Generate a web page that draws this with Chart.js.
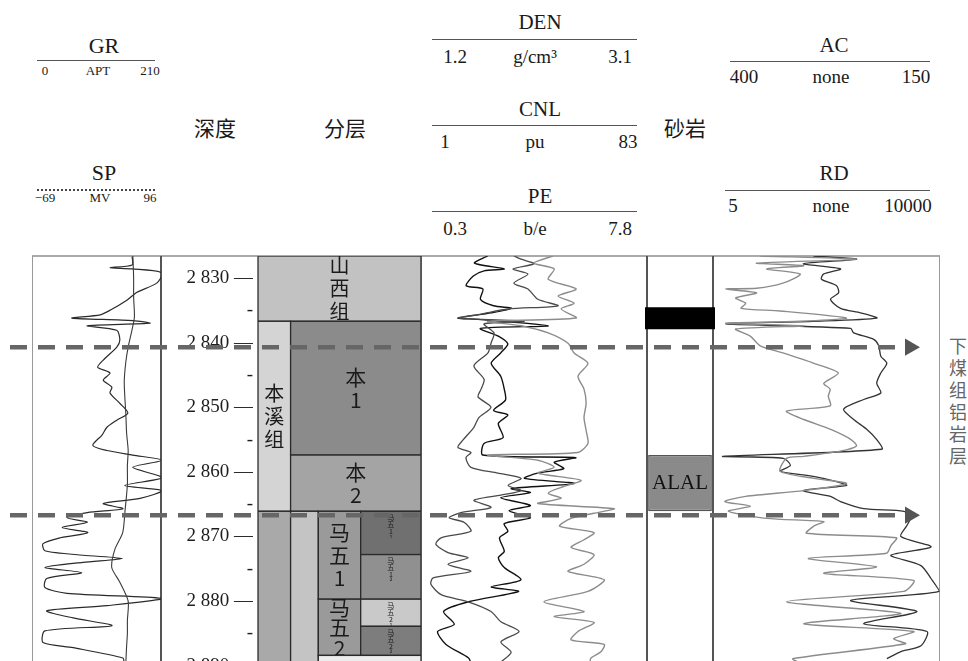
<!DOCTYPE html>
<html>
<head>
<meta charset="utf-8">
<title>测井曲线</title>
<script src="https://cdn.jsdelivr.net/npm/chart.js@4.4.1/dist/chart.umd.min.js"></script>
<style>
  body { margin: 0; background: #fff; overflow: hidden; }
  #page { position: relative; width: 968px; height: 661px; overflow: hidden;
          font-family: 'Liberation Serif', 'Noto Sans CJK SC', serif; color: #1a1a1a; }
  #page canvas { position: absolute; }
  .txt { position: absolute; white-space: nowrap; transform: translate(-50%, -50%); line-height: 1; }
  .cjk { font-family: 'Noto Sans CJK SC', sans-serif; }
  .rule { position: absolute; height: 0; border-top: 1.5px solid #555; }
  .vline { position: absolute; top: 256px; height: 420px; width: 0; }
</style>
</head>
<body>
<div id="page">
  <!-- headers -->
  <div class="txt" style="left:104px;top:46px;font-size:22px">GR</div>
  <div class="rule" style="left:37px;top:60px;width:118px"></div>
  <div class="txt" style="left:45px;top:70px;font-size:13px">0</div>
  <div class="txt" style="left:98px;top:70px;font-size:13px">APT</div>
  <div class="txt" style="left:150px;top:70px;font-size:13px">210</div>

  <div class="txt" style="left:104px;top:173px;font-size:22px">SP</div>
  <div class="rule" style="left:37px;top:189px;width:118px;border-top:2px dotted #444"></div>
  <div class="txt" style="left:45px;top:197px;font-size:13px">−69</div>
  <div class="txt" style="left:100px;top:197px;font-size:13px">MV</div>
  <div class="txt" style="left:150px;top:197px;font-size:13px">96</div>

  <div class="txt cjk" style="left:215px;top:127px;font-size:21px">深度</div>
  <div class="txt cjk" style="left:345px;top:127px;font-size:21px">分层</div>

  <div class="txt" style="left:540px;top:22px;font-size:21px">DEN</div>
  <div class="rule" style="left:432px;top:39px;width:205px"></div>
  <div class="txt" style="left:455px;top:56px;font-size:19px">1.2</div>
  <div class="txt" style="left:535px;top:56px;font-size:19px">g/cm³</div>
  <div class="txt" style="left:620px;top:56px;font-size:19px">3.1</div>

  <div class="txt" style="left:540px;top:109px;font-size:21px">CNL</div>
  <div class="rule" style="left:432px;top:125px;width:205px"></div>
  <div class="txt" style="left:445px;top:141px;font-size:19px">1</div>
  <div class="txt" style="left:535px;top:141px;font-size:19px">pu</div>
  <div class="txt" style="left:628px;top:141px;font-size:19px">83</div>

  <div class="txt" style="left:540px;top:196px;font-size:21px">PE</div>
  <div class="rule" style="left:432px;top:211px;width:205px"></div>
  <div class="txt" style="left:455px;top:228px;font-size:19px">0.3</div>
  <div class="txt" style="left:535px;top:228px;font-size:19px">b/e</div>
  <div class="txt" style="left:620px;top:228px;font-size:19px">7.8</div>

  <div class="txt cjk" style="left:685px;top:127px;font-size:21px">砂岩</div>

  <div class="txt" style="left:834px;top:45px;font-size:21px">AC</div>
  <div class="rule" style="left:730px;top:61px;width:200px"></div>
  <div class="txt" style="left:744px;top:76px;font-size:19px">400</div>
  <div class="txt" style="left:831px;top:76px;font-size:19px">none</div>
  <div class="txt" style="left:916px;top:76px;font-size:19px">150</div>

  <div class="txt" style="left:834px;top:173px;font-size:21px">RD</div>
  <div class="rule" style="left:725px;top:190px;width:205px"></div>
  <div class="txt" style="left:733px;top:205px;font-size:19px">5</div>
  <div class="txt" style="left:831px;top:205px;font-size:19px">none</div>
  <div class="txt" style="left:908px;top:205px;font-size:19px">10000</div>

  <div class="cjk" style="position:absolute;left:945px;top:337px;font-size:18px;color:#666;writing-mode:vertical-rl;letter-spacing:4px">下煤组铝岩层</div>

  <!-- track frame -->
  <div class="rule" style="left:32px;top:255px;width:908px;border-top:2px solid #aaa"></div>
  <div class="vline" style="left:32px;border-left:1px solid #999"></div>
  <div class="vline" style="left:160px;border-left:2px solid #555"></div>
  <div class="vline" style="left:257px;border-left:1.5px solid #777"></div>
  <div class="vline" style="left:420px;border-left:2px solid #555"></div>
  <div class="vline" style="left:646px;border-left:2px solid #555"></div>
  <div class="vline" style="left:712px;border-left:2px solid #555"></div>
  <div class="vline" style="left:939px;border-left:1px solid #999"></div>

  <canvas id="trackGR" width="129" height="444" style="left:32px;top:256px"></canvas>
  <canvas id="trackDepth" width="97" height="444" style="left:161px;top:256px"></canvas>
  <canvas id="trackStrat" width="163" height="444" style="left:258px;top:256px"></canvas>
  <canvas id="trackDen" width="226" height="444" style="left:421px;top:256px"></canvas>
  <canvas id="trackSand" width="70" height="444" style="left:645px;top:256px"></canvas>
  <canvas id="trackAC" width="227" height="444" style="left:713px;top:256px"></canvas>
  <canvas id="overlay" width="920" height="444" style="left:10px;top:256px;pointer-events:none"></canvas>
</div>

<script>
// depth window shown (m)
const DEPTH_MIN = 2826.6;
const DEPTH_MAX = 2895.3;

// GR / SP track
const grDepth = [
  2826.7, 2828.0, 2828.4, 2828.6, 2829.2,
  2830.8, 2832.2, 2833.4, 2835.0, 2835.7,
  2836.2, 2836.6, 2837.0, 2837.4, 2838.1,
  2839.6, 2840.7, 2842.7, 2843.8, 2844.7,
  2845.8, 2846.9, 2847.8, 2849.4, 2850.9,
  2852.0, 2853.1, 2854.3, 2855.9, 2856.7,
  2857.4, 2858.2, 2859.3, 2860.9, 2862.1,
  2862.9, 2864.1, 2864.9, 2865.7, 2866.3,
  2867.1, 2867.8, 2868.6, 2869.4, 2870.2,
  2871.1, 2872.2, 2872.9, 2873.4, 2874.0,
  2874.8, 2875.6, 2876.5, 2877.9, 2878.8,
  2879.6, 2880.7, 2881.5, 2882.6, 2883.8,
  2884.6, 2886.4, 2887.2, 2888.8, 2889.6];
const grValues = [
  163, 163, 127, 163, 212,
  203, 171, 155, 127, 111,
  65, 164, 192, 90, 138,
  143, 138, 116, 107, 127,
  116, 130, 127, 143, 156,
  138, 122, 114, 99, 122,
  164, 212, 164, 212, 151,
  212, 176, 116, 148, 90,
  57, 90, 49, 91, 46,
  18, 21, 83, 147, 83,
  21, 81, 24, 21, 57,
  212, 122, 24, 67, 130,
  21, 18, 67, 148, 150];

const spDepth = [2826.6, 2830, 2833, 2836, 2838, 2840.7, 2843, 2846, 2849, 2851, 2854, 2856.7,
                 2859, 2862, 2866, 2869.4, 2872, 2874.8, 2877, 2880, 2883, 2885, 2887, 2889.6];
const spValues = [60, 61, 61, 62, 59, 54, 51, 49, 50, 51, 52, 54,
                  53, 53, 50, 47, 37, 33, 43, 54, 53, 53, 52, 51];

// DEN / CNL / PE track
const denDepth = [
  2826.6, 2827.7, 2828.6, 2828.9, 2829.7,
  2831.2, 2831.7, 2833.3, 2834.3, 2834.7,
  2835.4, 2836.2, 2836.4, 2837.4, 2837.8,
  2839.0, 2840.2, 2841.6, 2843.2, 2845.2,
  2847.2, 2848.9, 2850.5, 2851.2, 2852.5,
  2854.7, 2855.6, 2857.4, 2857.8, 2858.5,
  2859.5, 2860.2, 2861.0, 2861.8, 2862.6,
  2863.2, 2864.0, 2865.2, 2866.0, 2867.1,
  2868.0, 2869.2, 2870.2, 2872.3, 2873.3,
  2874.8, 2876.7, 2877.8, 2878.5, 2880.1,
  2881.6, 2883.6, 2884.7, 2886.7, 2888.8,
  2889.6];
const denValues = [
  1.76, 1.65, 1.90, 1.73, 1.64,
  1.58, 1.72, 1.70, 1.81, 1.96,
  1.79, 1.51, 1.68, 2.27, 1.70,
  1.85, 1.93, 1.87, 1.79, 1.87,
  1.90, 1.91, 1.81, 1.93, 1.85,
  1.89, 1.73, 1.72, 2.50, 2.32,
  2.40, 2.18, 2.07, 2.49, 1.96,
  2.12, 1.87, 2.12, 1.94, 2.12,
  1.90, 1.93, 1.86, 1.90, 1.85,
  1.90, 2.04, 1.79, 2.02, 1.60,
  1.39, 1.48, 1.34, 1.41, 1.60,
  1.62];

const cnlDepth = [
  2826.6, 2827.1, 2827.8, 2828.6, 2829.4,
  2830.8, 2831.7, 2833.3, 2834.3, 2834.8,
  2835.6, 2836.2, 2836.7, 2837.1, 2838.5,
  2840.1, 2841.6, 2843.6, 2845.7, 2847.2,
  2848.4, 2850.0, 2851.6, 2853.1, 2855.1,
  2856.2, 2857.0, 2857.8, 2859.3, 2860.2,
  2861.0, 2862.1, 2862.9, 2863.6, 2864.4,
  2865.5, 2866.3, 2867.1, 2867.8, 2869.2,
  2870.2, 2871.2, 2872.5, 2873.3, 2874.3,
  2875.4, 2876.4, 2877.4, 2879.0, 2880.1,
  2881.6, 2883.2, 2884.7, 2886.3, 2887.9,
  2889.4];
const cnlValues = [
  34.7, 37.3, 42.0, 34.4, 39.8,
  34.7, 39.8, 43.4, 50.7, 32.6,
  22.8, 14.8, 38.4, 23.9, 27.5,
  26.4, 25.3, 20.2, 23.9, 22.8,
  21.7, 26.4, 22.0, 20.2, 16.2,
  14.4, 19.1, 17.3, 19.1, 28.9,
  37.3, 32.6, 37.3, 30.0, 20.2,
  26.4, 15.5, 11.2, 16.6, 19.1,
  8.3, 6.4, 10.8, 18.1, 10.8,
  19.1, 5.4, 4.6, 8.3, 18.1,
  26.4, 30.0, 36.6, 30.0, 33.7,
  30.0];

const peDepth = [
  2826.6, 2827.7, 2828.6, 2830.2, 2831.7,
  2832.8, 2833.9, 2834.8, 2836.2, 2836.7,
  2837.4, 2838.5, 2840.1, 2841.6, 2843.2,
  2845.2, 2847.2, 2849.4, 2851.6, 2853.6,
  2855.6, 2857.0, 2857.4, 2858.2, 2859.3,
  2860.2, 2861.3, 2862.4, 2863.3, 2864.1,
  2864.9, 2865.7, 2866.4, 2867.2, 2868.4,
  2869.4, 2870.5, 2871.7, 2872.8, 2874.3,
  2875.4, 2876.7, 2878.5, 2880.1, 2881.6,
  2882.4, 2883.3, 2884.7, 2886.0, 2886.7,
  2887.8, 2888.8, 2889.6];
const peValues = [
  4.68, 4.05, 4.72, 4.52, 5.45,
  4.85, 5.38, 4.95, 5.45, 2.52,
  3.62, 4.52, 5.18, 5.38, 5.84,
  5.51, 5.71, 5.78, 5.71, 5.78,
  5.84, 5.51, 2.52, 4.18, 4.72,
  4.18, 5.61, 4.95, 4.52, 4.95,
  4.18, 6.71, 6.04, 5.28, 4.90,
  6.04, 5.71, 5.28, 6.04, 5.71,
  5.18, 6.38, 5.84, 4.38, 5.71,
  4.72, 6.04, 5.51, 5.28, 6.38,
  6.28, 5.94, 5.90];

// AC / RD track
const acDepth = [
  2826.6, 2827.1, 2827.7, 2828.1, 2828.6,
  2829.4, 2830.8, 2831.6, 2831.7, 2832.3,
  2833.1, 2833.9, 2834.7, 2835.1, 2836.2,
  2836.7, 2837.0, 2837.4, 2837.9, 2839.0,
  2840.5, 2841.6, 2843.2, 2844.7, 2846.3,
  2847.2, 2848.3, 2849.8, 2850.6, 2851.9,
  2853.4, 2855.0, 2856.0, 2856.8, 2857.6,
  2857.9, 2859.9, 2861.0, 2861.8, 2862.9,
  2863.8, 2864.6, 2865.3, 2866.1, 2867.2,
  2867.7, 2868.4, 2869.5, 2870.2, 2871.4,
  2872.6, 2873.4, 2874.7, 2875.7, 2876.8,
  2878.5, 2880.1, 2881.9, 2883.5, 2884.7,
  2885.8, 2886.6, 2888.9, 2889.6];
const acValues = [
  348, 242, 352, 300, 341,
  304, 323, 352, 386, 352,
  375, 364, 369, 326, 253,
  304, 386, 300, 375, 359,
  348, 323, 289, 262, 278,
  271, 273, 271, 319, 300,
  271, 248, 242, 260, 300,
  319, 326, 289, 253, 300,
  364, 387, 359, 383, 341,
  278, 289, 297, 198, 204,
  209, 295, 220, 278, 179,
  190, 319, 193, 300, 179,
  201, 188, 312, 304];

const rdDepth = [
  2826.6, 2827.1, 2827.8, 2828.6, 2829.4,
  2830.2, 2831.2, 2832.3, 2833.3, 2834.7,
  2835.4, 2836.2, 2836.7, 2837.1, 2837.8,
  2838.5, 2839.5, 2840.5, 2842.1, 2843.2,
  2844.7, 2846.3, 2847.8, 2848.8, 2850.3,
  2851.9, 2853.4, 2855.0, 2856.5, 2857.6,
  2857.9, 2859.0, 2859.9, 2860.7, 2861.5,
  2862.1, 2862.9, 2863.8, 2864.6, 2865.7,
  2866.1, 2866.9, 2868.3, 2870.0, 2871.6,
  2872.9, 2874.5, 2876.5, 2878.5, 2879.9,
  2881.6, 2883.5, 2884.7, 2886.9, 2887.8,
  2888.9];
const rdValues = [
  144, 614, 103, 358, 202,
  189, 313, 335, 256, 358,
  703, 1202, 144, 7.7, 502,
  555, 1088, 1288, 1377, 1686,
  1377, 1202, 1377, 778, 396,
  555, 859, 1202, 1423, 7.0,
  52.7, 66.7, 47.6, 144, 313,
  439, 103, 256, 358, 778,
  2985, 3779, 3302, 2698, 7396,
  1928, 5284, 7396, 9680, 502,
  4621, 778, 6465, 5284, 2698,
  1686];

// stratigraphic units
const stratName = ['山西组', '本溪组', '本1', '本2', '', '', '马五1', '马五2',
                   '马五1¹', '马五1²', '马五2¹', '马五2²', ''];
const stratTop  = [2826.6, 2836.7, 2836.7, 2857.4, 2866.1, 2866.1, 2866.1, 2879.7,
                   2866.1, 2872.8, 2879.7, 2883.9, 2888.4];
const stratBase = [2836.7, 2866.1, 2857.4, 2866.1, 2895.3, 2895.3, 2879.7, 2888.4,
                   2872.8, 2879.7, 2883.9, 2888.4, 2895.3];

// lithology column
const lithName = ['', 'ALAL'];
const lithTop  = [2834.6, 2857.4];
const lithBase = [2837.9, 2866.1];

// marker boundaries (dashed arrows)
const boundaryDepth = [2840.7, 2866.7];

// ---------- layout / styles ----------
const stratCols = [0, 0.2, 0.37, 0.63, 1];
const stratStyle = [
  { c: [0, 4], fill: '#c2c2c2', size: 20 },
  { c: [0, 1], fill: '#d4d4d4', size: 20 },
  { c: [1, 4], fill: '#8b8b8b', size: 21 },
  { c: [1, 4], fill: '#a4a4a4', size: 21 },
  { c: [0, 1], fill: '#a9a9a9', size: 20 },
  { c: [1, 2], fill: '#c4c4c4', size: 20 },
  { c: [2, 3], fill: '#9a9a9a', size: 21 },
  { c: [2, 3], fill: '#9a9a9a', size: 21 },
  { c: [3, 4], fill: '#707070', size: 7, top: true },
  { c: [3, 4], fill: '#909090', size: 7, top: true },
  { c: [3, 4], fill: '#c9c9c9', size: 7, top: true },
  { c: [3, 4], fill: '#7d7d7d', size: 7, top: true },
  { c: [2, 4], fill: '#ececec', size: 7 }
];

const baseOptions = {
  responsive: false,
  animation: false,
  events: [],
  layout: { padding: 0, autoPadding: false },
  plugins: { legend: { display: false }, tooltip: { enabled: false } }
};

function depthAxis() {
  return { type: 'linear', reverse: true, min: DEPTH_MIN, max: DEPTH_MAX, display: false };
}

function curve(depths, values, axisId, color, width) {
  return {
    data: depths.map((d, i) => ({ x: values[i], y: d })),
    xAxisID: axisId,
    showLine: true,
    borderColor: color,
    borderWidth: width,
    pointRadius: 0,
    tension: 0.25,
    fill: false
  };
}

function logTrack(id, datasets, xScales) {
  return new Chart(document.getElementById(id), {
    type: 'scatter',
    data: { datasets },
    options: Object.assign({}, baseOptions, {
      scales: Object.assign({ y: depthAxis() }, xScales)
    })
  });
}

// GR / SP
logTrack('trackGR', [
  curve(spDepth, spValues, 'xSP', '#3a3a3a', 1.1),
  curve(grDepth, grValues, 'xGR', '#2a2a2a', 1.2)
], {
  xGR: { type: 'linear', axis: 'x', min: 0, max: 210, display: false },
  xSP: { type: 'linear', axis: 'x', min: -69, max: 96, display: false }
});

// DEN / CNL / PE
logTrack('trackDen', [
  curve(peDepth, peValues, 'xPE', '#8c8c8c', 1.4),
  curve(cnlDepth, cnlValues, 'xCNL', '#4a4a4a', 1.3),
  curve(denDepth, denValues, 'xDEN', '#111111', 1.4)
], {
  xDEN: { type: 'linear', axis: 'x', min: 1.2, max: 3.1, display: false },
  xCNL: { type: 'linear', axis: 'x', min: 1, max: 83, display: false },
  xPE: { type: 'linear', axis: 'x', min: 0.3, max: 7.8, display: false }
});

// AC / RD
logTrack('trackAC', [
  curve(acDepth, acValues, 'xAC', '#8c8c8c', 1.4),
  curve(rdDepth, rdValues, 'xRD', '#333333', 1.3)
], {
  xAC: { type: 'linear', axis: 'x', min: 150, max: 400, reverse: true, display: false },
  xRD: { type: 'logarithmic', axis: 'x', min: 5, max: 10000, display: false }
});

// depth scale
function fmtDepth(v) {
  return String(v).replace(/(\d)(\d{3})$/, '$1 $2');
}
new Chart(document.getElementById('trackDepth'), {
  type: 'scatter',
  data: { datasets: [] },
  options: Object.assign({}, baseOptions, {
    scales: {
      x: { type: 'linear', min: 0, max: 1, display: false },
      y: {
        type: 'linear', position: 'left', reverse: true, min: DEPTH_MIN, max: DEPTH_MAX,
        grid: { display: false, drawTicks: false },
        border: { display: false },
        afterFit: (s) => { s.width = 92; s.paddingTop = 0; s.paddingBottom = 0; },
        ticks: {
          stepSize: 5, autoSkip: false, includeBounds: false, padding: 0,
          color: '#1e1e1e',
          font: { family: 'Liberation Serif', size: 19 },
          callback: (v) => {
            if (Math.abs(v % 10) < 1e-6) return fmtDepth(v) + ' —';
            if (Math.abs(v % 5) < 1e-6) return '-';
            return '';
          }
        }
      }
    }
  })
});

// stratigraphy column
const stratPlugin = {
  id: 'strat',
  afterDatasetsDraw(chart) {
    const { ctx, scales: { x, y } } = chart;
    stratName.forEach((name, i) => {
      const st = stratStyle[i];
      const x0 = x.getPixelForValue(stratCols[st.c[0]]);
      const x1 = x.getPixelForValue(stratCols[st.c[1]]);
      const y0 = y.getPixelForValue(stratTop[i]);
      const y1 = y.getPixelForValue(stratBase[i]);
      ctx.save();
      ctx.fillStyle = st.fill;
      ctx.fillRect(x0, y0, x1 - x0, y1 - y0);
      ctx.strokeStyle = '#2a2a2a';
      ctx.lineWidth = 1.3;
      ctx.strokeRect(x0, y0, x1 - x0, y1 - y0);
      if (name) {
        const chars = Array.from(name);
        const step = st.size > 10 ? Math.min(23, (y1 - y0) / chars.length + 2) : 7;
        ctx.font = st.size + "px 'Noto Sans CJK SC', 'Liberation Serif'";
        ctx.fillStyle = '#1a1a1a';
        ctx.textAlign = 'center';
        ctx.textBaseline = 'middle';
        const cx = (x0 + x1) / 2;
        const first = st.top ? y0 + 6 : (y0 + y1) / 2 - (chars.length - 1) * step / 2;
        chars.forEach((c, k) => ctx.fillText(c, cx, first + k * step));
      }
      ctx.restore();
    });
  }
};
new Chart(document.getElementById('trackStrat'), {
  type: 'scatter',
  data: { datasets: [] },
  options: Object.assign({}, baseOptions, {
    scales: {
      x: { type: 'linear', min: 0, max: 1, display: false },
      y: depthAxis()
    }
  }),
  plugins: [stratPlugin]
});

// lithology column (floating bars)
const lithLabelPlugin = {
  id: 'lithLabel',
  afterDatasetsDraw(chart) {
    const ctx = chart.ctx;
    chart.data.datasets.forEach((ds, i) => {
      if (!lithName[i]) return;
      const bar = chart.getDatasetMeta(i).data[0];
      ctx.save();
      ctx.font = "21px 'Liberation Serif'";
      ctx.fillStyle = '#111';
      ctx.textAlign = 'center';
      ctx.textBaseline = 'middle';
      ctx.fillText(lithName[i], bar.x, (bar.y + bar.base) / 2);
      ctx.restore();
    });
  }
};
const lithFill = ['#000000', '#8a8a8a'];
const lithWidth = [1, 0.91];
new Chart(document.getElementById('trackSand'), {
  type: 'bar',
  data: {
    labels: ['砂岩'],
    datasets: lithName.map((n, i) => ({
      data: [[lithTop[i], lithBase[i]]],
      backgroundColor: lithFill[i],
      borderColor: '#555',
      borderWidth: i === 0 ? 0 : 1.5,
      borderSkipped: false,
      barPercentage: lithWidth[i],
      categoryPercentage: 1,
      grouped: false
    }))
  },
  options: Object.assign({}, baseOptions, {
    scales: {
      x: { display: false },
      y: depthAxis()
    }
  }),
  plugins: [lithLabelPlugin]
});

// dashed boundary arrows across all tracks
new Chart(document.getElementById('overlay'), {
  type: 'scatter',
  data: {
    datasets: boundaryDepth.map((d) => ({
      data: [{ x: 0, y: d }, { x: 1, y: d }],
      showLine: true,
      borderColor: '#666',
      borderWidth: 4.5,
      borderDash: [17, 11],
      pointRadius: [0, 10],
      pointStyle: 'triangle',
      rotation: 90,
      pointBackgroundColor: '#555',
      pointBorderWidth: 0,
      clip: false
    }))
  },
  options: Object.assign({}, baseOptions, {
    layout: { padding: { left: 0, right: 20, top: 0, bottom: 0 }, autoPadding: false },
    scales: {
      x: { type: 'linear', min: 0, max: 1, display: false },
      y: depthAxis()
    }
  })
});
</script>
</body>
</html>
